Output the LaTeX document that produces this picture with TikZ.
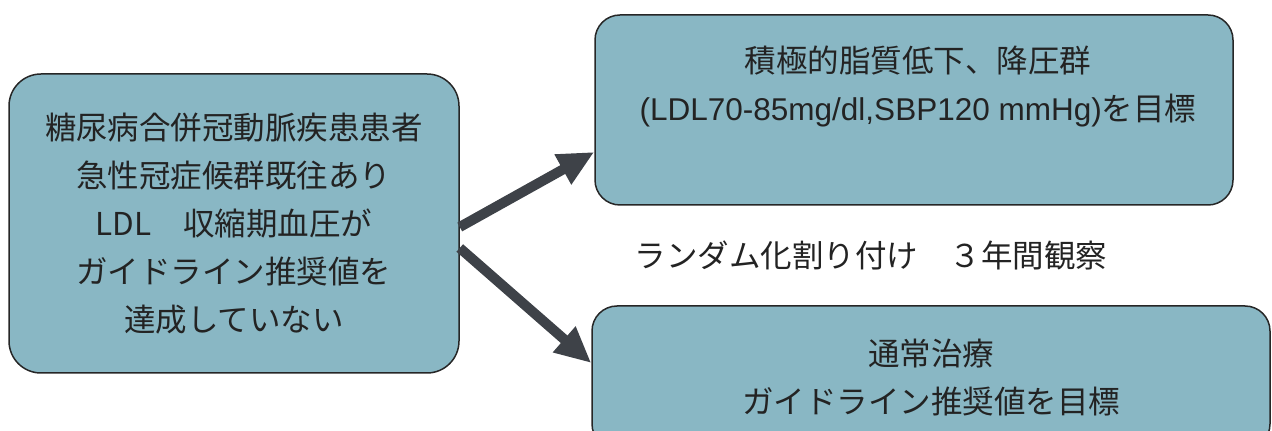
\documentclass[tikz,border=0pt]{standalone}
\usepackage{fontspec}
\setmainfont{Noto Sans CJK JP}
\newfontfamily\latinfont{Liberation Sans}
\usetikzlibrary{arrows.meta}

\definecolor{caixa}{RGB}{137,183,196}
\definecolor{seta}{RGB}{62,66,72}
\definecolor{texto}{RGB}{35,35,35}

\tikzset{
	grupo/.style={draw=black!85, line width=1.5pt, fill=caixa, inner sep=0pt},
	rotulo/.style={text=texto, font=\fontsize{31.5}{48}\selectfont, align=center, inner sep=0pt},
	setagrossa/.style={seta, line width=10pt, -{Triangle[length=36pt,width=32pt]}}
}

\begin{document}
\begin{tikzpicture}[x=1pt,y=1pt]
	\useasboundingbox (0,0) rectangle (1272,431);
	
	% Pacientes (caixa da esquerda)
	\node[grupo, rotulo, minimum width=450pt, minimum height=299pt, rounded corners=32pt] (pacientes) at (234,207.5) {糖尿病合併冠動脈疾患患者\\急性冠症候群既往あり\\LDL　収縮期血圧が\\ガイドライン推奨値を\\達成していない};
	
	% Grupo intensivo (em cima)
	\node[grupo, minimum width=638pt, minimum height=190pt, rounded corners=25pt] (intensivo) at (914,321) {};
	\node[rotulo] (intensivotexto) at (918,344.5) {積極的脂質低下、降圧群\\{\latinfont (LDL70-85mg/dl,SBP120 mmHg)}を目標};
	
	% Texto do meio
	\node[rotulo] (aleatorio) at (871,176) {ランダム化割り付け　３年間観察};
	
	% Grupo padrao (embaixo, cortado)
	\node[grupo, rotulo, minimum width=678pt, minimum height=143pt, rounded corners=25pt] (padrao) at (931,53.5) {通常治療\\ガイドライン推奨値を目標};
	
	% Setas
	\draw[setagrossa] ([yshift=-3.5pt]pacientes.east) -- ([yshift=-42pt]intensivo.west);
	\draw[setagrossa] ([yshift=-24.5pt]pacientes.east) -- ([yshift=14.5pt]padrao.west);
\end{tikzpicture}
\end{document}
